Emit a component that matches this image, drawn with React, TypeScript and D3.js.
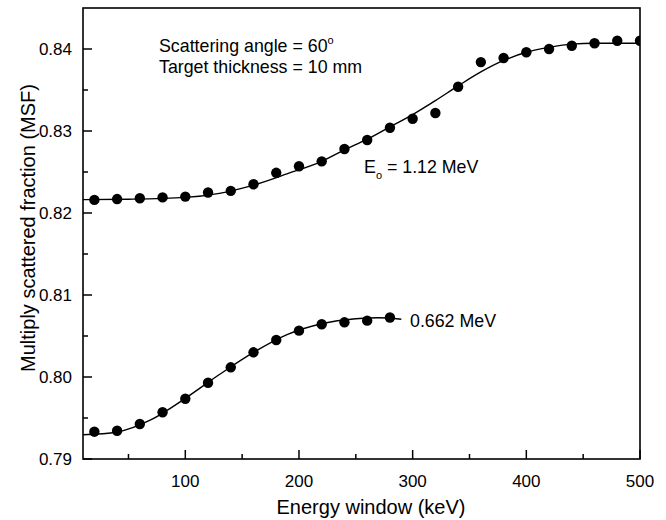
import React from "react";
import * as d3 from "d3";

const energy = [20, 40, 60, 80, 100, 120, 140, 160, 180, 200, 220, 240, 260, 280, 300, 320, 340, 360, 380, 400, 420, 440, 460, 480, 500];
const msfHigh = [0.8216, 0.8217, 0.8218, 0.8219, 0.822, 0.8225, 0.8227, 0.8235, 0.8249, 0.8257, 0.8263, 0.8278, 0.8289, 0.8304, 0.8315, 0.8322, 0.8354, 0.8384, 0.8389, 0.8396, 0.84, 0.8404, 0.8407, 0.841, 0.841];
const energyLow = [20, 40, 60, 80, 100, 120, 140, 160, 180, 200, 220, 240, 260, 280];
const msfLow = [0.79333, 0.79345, 0.79427, 0.7957, 0.79735, 0.7993, 0.80118, 0.80301, 0.80451, 0.80565, 0.80643, 0.80667, 0.80687, 0.80725];

const fitHighX = [10, 50, 100, 130, 160, 190, 220, 240, 260, 280, 300, 320, 340, 360, 380, 400, 420, 440, 460, 500];
const fitHighY = [0.82163, 0.82168, 0.8219, 0.8224, 0.8234, 0.8248, 0.8263, 0.8277, 0.829, 0.8305, 0.832, 0.8337, 0.8355, 0.8372, 0.8386, 0.8396, 0.8402, 0.8406, 0.8407, 0.8407];
const fitLowX = [10, 40, 70, 100, 130, 160, 190, 220, 250, 270, 290];
const fitLowY = [0.79295, 0.7933, 0.7948, 0.7974, 0.8003, 0.803, 0.8052, 0.8065, 0.8071, 0.80722, 0.80704];

const xMajor = [100, 200, 300, 400, 500];
const xMinor = [50, 150, 250, 350, 450];
const yMajor = [0.79, 0.8, 0.81, 0.82, 0.83, 0.84];
const yMinor = [0.795, 0.805, 0.815, 0.825, 0.835];

const W = 666, H = 520;
const L = 83, R = 640, T = 8, B = 459;
const FONT = "Liberation Sans, Arial, Helvetica, sans-serif";

export default function App() {
  const x = d3.scaleLinear().domain([10, 500]).range([L, R]);
  const y = d3.scaleLinear().domain([0.79, 0.845]).range([B, T]);
  const line = d3
    .line<[number, number]>()
    .x((d) => x(d[0]))
    .y((d) => y(d[1]))
    .curve(d3.curveMonotoneX);
  const highFit = line(fitHighX.map((v, i) => [v, fitHighY[i]]) as [number, number][]) || "";
  const lowFit = line(fitLowX.map((v, i) => [v, fitLowY[i]]) as [number, number][]) || "";

  return (
    <svg width={W} height={H} style={{ position: "absolute", left: 0, top: 0, background: "#fff" }} fontFamily={FONT}>
      <defs>
        <clipPath id="plotclip">
          <rect x={L} y={T} width={R - L} height={B - T} />
        </clipPath>
      </defs>
      <g clipPath="url(#plotclip)">
        <path d={highFit} fill="none" stroke="#000" strokeWidth={1.4} />
        <path d={lowFit} fill="none" stroke="#000" strokeWidth={1.4} />
        {energy.map((e, i) => (
          <circle key={"h" + i} cx={x(e)} cy={y(msfHigh[i])} r={5.2} fill="#000" />
        ))}
        {energyLow.map((e, i) => (
          <circle key={"l" + i} cx={x(e)} cy={y(msfLow[i])} r={5.2} fill="#000" />
        ))}
      </g>
      {/* frame */}
      <rect x={L} y={T} width={R - L} height={B - T} fill="none" stroke="#000" strokeWidth={1.6} />
      {/* x ticks */}
      {xMajor.map((v) => (
        <g key={"xm" + v}>
          <line x1={x(v)} x2={x(v)} y1={B} y2={B - 9} stroke="#000" strokeWidth={1.5} />
          <text x={x(v)} y={487} fontSize={17} textAnchor="middle" fill="#000">{v}</text>
        </g>
      ))}
      {xMinor.map((v) => (
        <line key={"xn" + v} x1={x(v)} x2={x(v)} y1={B} y2={B - 5} stroke="#000" strokeWidth={1.5} />
      ))}
      {/* y ticks */}
      {yMajor.map((v) => (
        <g key={"ym" + v}>
          <line x1={L} x2={L + 9} y1={y(v)} y2={y(v)} stroke="#000" strokeWidth={1.5} />
          <text x={72} y={y(v) + 6} fontSize={17} textAnchor="end" fill="#000">{v.toFixed(2)}</text>
        </g>
      ))}
      {yMinor.map((v) => (
        <line key={"yn" + v} x1={L} x2={L + 5} y1={y(v)} y2={y(v)} stroke="#000" strokeWidth={1.5} />
      ))}
      {/* axis titles */}
      <text x={371} y={514} fontSize={20} textAnchor="middle" fill="#000">Energy window (keV)</text>
      <text transform={`translate(35,228) rotate(-90)`} fontSize={20} textAnchor="middle" fill="#000">Multiply scattered fraction (MSF)</text>
      {/* annotations */}
      <text x={159} y={52} fontSize={17.8} fill="#000">
        Scattering angle = 60<tspan fontSize={11} dy={-8}>o</tspan>
      </text>
      <text x={159} y={73} fontSize={17.8} fill="#000">Target thickness = 10 mm</text>
      <text x={364} y={173} fontSize={17.8} fill="#000">
        E<tspan fontSize={11} dy={6}>o</tspan><tspan dy={-6}> = 1.12 MeV</tspan>
      </text>
      <text x={410} y={327} fontSize={17.8} fill="#000">0.662 MeV</text>
    </svg>
  );
}
